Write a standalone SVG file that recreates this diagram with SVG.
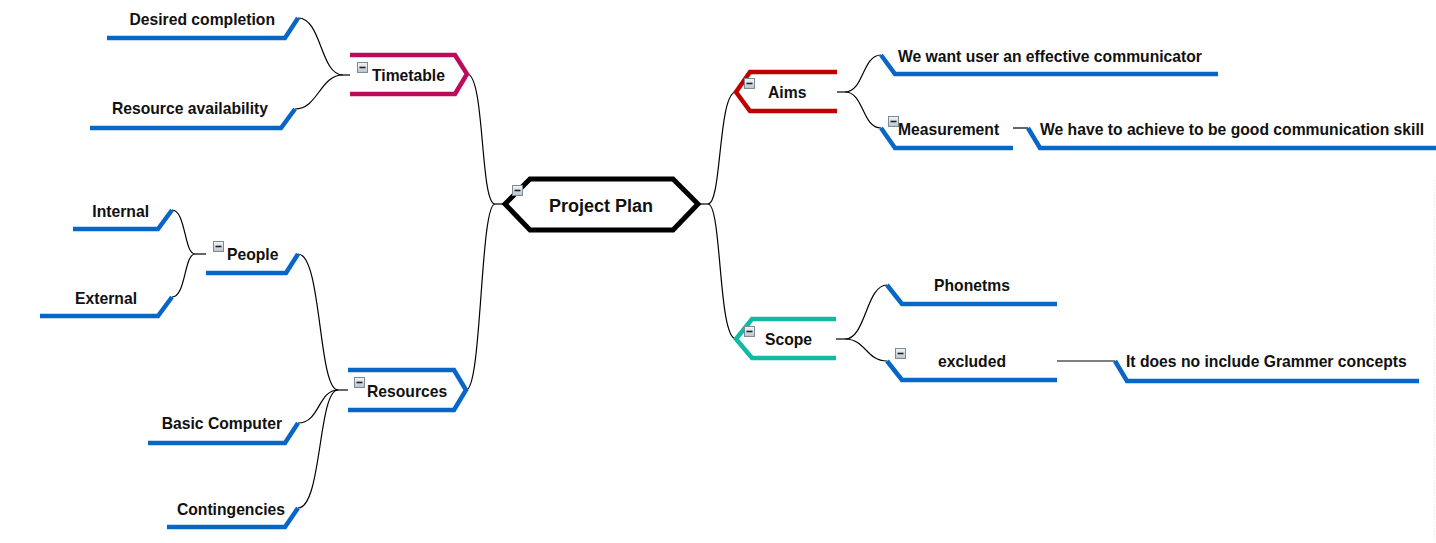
<svg xmlns="http://www.w3.org/2000/svg" width="1436" height="543" viewBox="0 0 1436 543">
<defs>
<linearGradient id="ig" x1="0" y1="0" x2="0" y2="1">
<stop offset="0" stop-color="#f4f6f8"/>
<stop offset="1" stop-color="#b9c3cc"/>
</linearGradient>
<g id="icon">
<rect x="0.5" y="0.5" width="10" height="10" fill="url(#ig)" stroke="#7d8b98" stroke-width="1"/>
<line x1="2.5" y1="5.5" x2="8.5" y2="5.5" stroke="#222" stroke-width="1.6"/>
</g>
</defs>
<style>
text{font-family:"Liberation Sans",Arial,sans-serif;font-weight:bold;font-size:15.7px;fill:#111}
.conn path,.conn line{fill:none;stroke:#000;stroke-width:1.2}
.leaf{fill:none;stroke:#0866c6;stroke-width:4.5;stroke-linejoin:miter}
.main{fill:none;stroke-width:4.5;stroke-linejoin:miter}
</style>
<rect width="1436" height="543" fill="#fff"/>
<line x1="1434.5" y1="180" x2="1434.5" y2="543" stroke="#e6e6e6" stroke-width="1" stroke-dasharray="1,2"/>

<g id="connectors" class="conn">
<line x1="505" y1="204" x2="495" y2="204"/>
<path d="M495,204 C480,204 485,74 467,74"/>
<path d="M495,204 C480,204 482,390 466,390"/>
<line x1="698" y1="204" x2="708" y2="204"/>
<path d="M708,204 C722,204 718,92 736,92"/>
<path d="M708,204 C722,204 718,339 736,339"/>
<line x1="837" y1="92" x2="845" y2="92"/>
<path d="M845,92 C864,92 862,55 881,55"/>
<path d="M845,92 C864,92 862,128 881,128"/>
<line x1="1013" y1="128" x2="1028" y2="128"/>
<line x1="836" y1="339" x2="845" y2="339"/>
<path d="M845,339 C866,339 866,285 887,285"/>
<path d="M845,339 C866,339 866,361 887,361"/>
<line x1="1057" y1="361" x2="1115" y2="361"/>
<line x1="350" y1="75" x2="343" y2="75"/>
<path d="M343,75 C320,75 322,18 298,18"/>
<path d="M343,75 C320,75 318,109 295,109"/>
<line x1="206" y1="254" x2="195" y2="254"/>
<path d="M195,254 C184,254 186,210 172,210"/>
<path d="M195,254 C184,254 186,297 172,297"/>
<line x1="348" y1="390" x2="338" y2="390"/>
<path d="M338,390 C318,390 322,254 298,254"/>
<path d="M338,390 C318,390 320,423 298,423"/>
<path d="M338,390 C318,390 322,508 298,508"/>
</g>

<g id="project-plan">
<polygon points="505,204 530,179 673,179 698,204 673,230 530,230" fill="#fff" stroke="#000" stroke-width="5" stroke-linejoin="miter"/>
<use href="#icon" x="512" y="185"/>
<text x="549" y="212" style="font-size:18px">Project Plan</text>
</g>

<g id="timetable">
<polyline class="main" points="350,55 455,55 467,74 455,94 350,94" stroke="#be0a5a"/>
<use href="#icon" x="357" y="62"/>
<text x="372" y="81">Timetable</text>
</g>
<g id="desired-completion">
<polyline class="leaf" points="298,18 285,38 107,38"/>
<text x="275" y="25" text-anchor="end">Desired completion</text>
</g>
<g id="resource-availability">
<polyline class="leaf" points="295,109 281,128 90,128"/>
<text x="268" y="114" text-anchor="end">Resource availability</text>
</g>

<g id="resources">
<polyline class="main" points="348,370 454,370 466,390 454,410 348,410" stroke="#0866c6"/>
<use href="#icon" x="354" y="377"/>
<text x="367" y="397">Resources</text>
</g>
<g id="people">
<polyline class="leaf" points="298,254 286,273 206,273"/>
<use href="#icon" x="213" y="241"/>
<text x="227" y="260">People</text>
</g>
<g id="internal">
<polyline class="leaf" points="172,210 158,229 73,229"/>
<text x="149" y="217" text-anchor="end">Internal</text>
</g>
<g id="external">
<polyline class="leaf" points="172,297 158,316 40,316"/>
<text x="137" y="304" text-anchor="end">External</text>
</g>
<g id="basic-computer">
<polyline class="leaf" points="298,423 285,443 148,443"/>
<text x="282" y="429" text-anchor="end">Basic Computer</text>
</g>
<g id="contingencies">
<polyline class="leaf" points="298,508 285,527 167,527"/>
<text x="285" y="515" text-anchor="end">Contingencies</text>
</g>

<g id="aims">
<polyline class="main" points="837,72 750,72 736,92 750,111 837,111" stroke="#c00000"/>
<use href="#icon" x="744" y="78"/>
<text x="768" y="98">Aims</text>
</g>
<g id="effective-communicator">
<polyline class="leaf" points="881,55 895,74 1218,74"/>
<text x="898" y="62">We want user an effective communicator</text>
</g>
<g id="measurement">
<polyline class="leaf" points="881,128 895,148 1013,148"/>
<use href="#icon" x="888" y="116"/>
<text x="898" y="135">Measurement</text>
</g>
<g id="communication-skill">
<polyline class="leaf" points="1028,128 1040,148 1436,148"/>
<text x="1040" y="135">We have to achieve to be good communication skill</text>
</g>

<g id="scope">
<polyline class="main" points="836,319 752,319 736,339 752,358 836,358" stroke="#12b9a3"/>
<use href="#icon" x="744" y="326"/>
<text x="765" y="345">Scope</text>
</g>
<g id="phonetms">
<polyline class="leaf" points="887,285 902,304 1057,304"/>
<text x="972" y="291" text-anchor="middle">Phonetms</text>
</g>
<g id="excluded">
<polyline class="leaf" points="887,361 902,380 1057,380"/>
<use href="#icon" x="895" y="348"/>
<text x="972" y="367" text-anchor="middle">excluded</text>
</g>
<g id="grammer-concepts">
<polyline class="leaf" points="1115,361 1127,381 1419,381"/>
<text x="1126" y="367">It does no include Grammer concepts</text>
</g>
</svg>
